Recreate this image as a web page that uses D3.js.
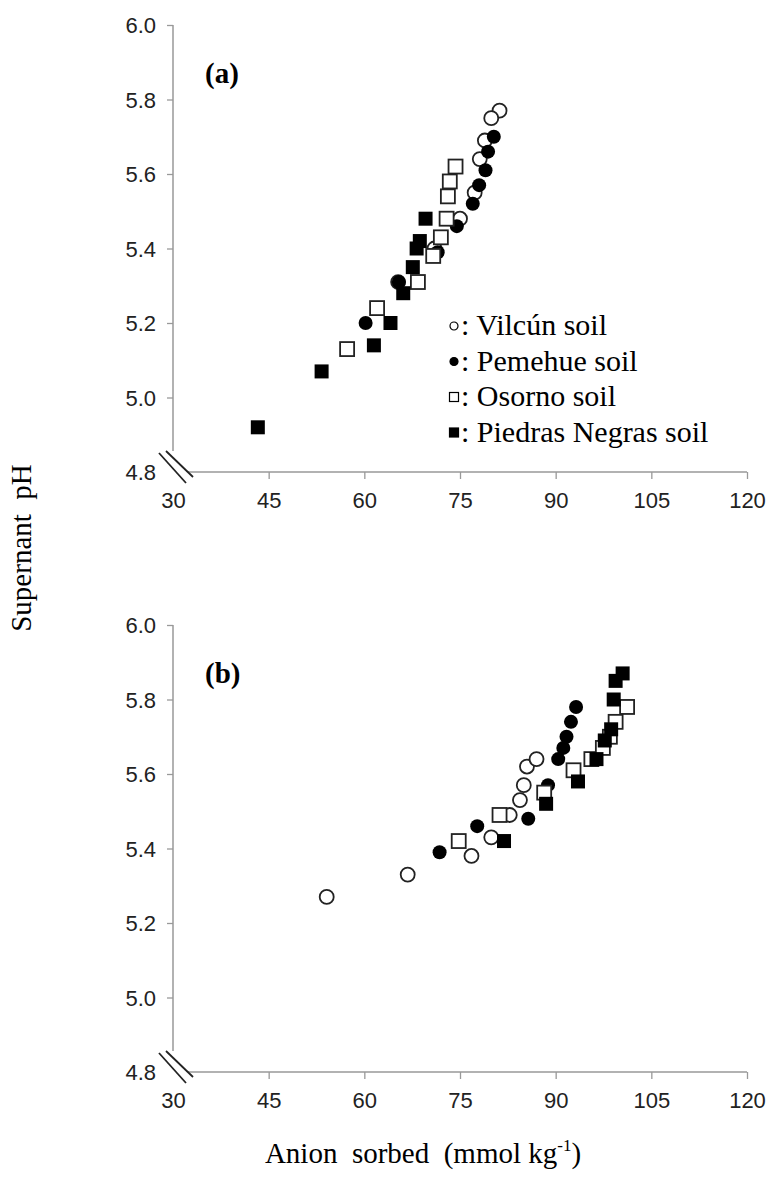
<!DOCTYPE html>
<html>
<head>
<meta charset="utf-8">
<script src="https://cdn.jsdelivr.net/npm/d3@7"></script>
<style>
  body { margin: 0; background: #fff; }
  svg { display: block; }
  .tick text { font-family: "Liberation Sans", Arial, sans-serif; font-size: 22px; fill: #222; }
  .serif { font-family: "Liberation Serif", "Times New Roman", serif; fill: #000; }
</style>
</head>
<body>
<svg width="772" height="1183"></svg>
<script>
// tick labels
var xTicks = [30, 45, 60, 75, 90, 105, 120];
var yTicks = [4.8, 5.0, 5.2, 5.4, 5.6, 5.8, 6.0];

var seriesNames = ["Vilcún soil", "Pemehue soil", "Osorno soil", "Piedras Negras soil"];

// panel (a): [anion sorbed, pH]
var vilcunA = [[81.2,5.77],[79.9,5.75],[78.9,5.69],[78.1,5.64],[77.3,5.55],[75.0,5.48],[71.0,5.40],[65.3,5.31]];
var pemehueA = [[80.3,5.70],[79.4,5.66],[79.0,5.61],[78.0,5.57],[77.0,5.52],[74.5,5.46],[71.5,5.39],[65.4,5.31],[60.2,5.20]];
var osornoA = [[74.3,5.62],[73.4,5.58],[73.1,5.54],[72.9,5.48],[72.0,5.43],[70.8,5.38],[68.4,5.31],[62.0,5.24],[57.3,5.13]];
var piedrasA = [[69.6,5.48],[68.7,5.42],[68.2,5.40],[67.6,5.35],[66.1,5.28],[64.1,5.20],[61.5,5.14],[53.3,5.07],[43.3,4.92]];

// panel (b)
var vilcunB = [[54.1,5.27],[66.8,5.33],[76.8,5.38],[79.9,5.43],[82.8,5.49],[84.4,5.53],[85.0,5.57],[85.5,5.62],[87.0,5.64]];
var pemehueB = [[71.8,5.39],[77.7,5.46],[85.7,5.48],[88.8,5.57],[90.4,5.64],[91.2,5.67],[91.7,5.70],[92.4,5.74],[93.2,5.78]];
var osornoB = [[74.8,5.42],[81.2,5.49],[88.2,5.55],[92.8,5.61],[95.6,5.64],[97.4,5.67],[98.5,5.70],[99.4,5.74],[101.2,5.78]];
var piedrasB = [[81.9,5.42],[88.5,5.52],[93.5,5.58],[96.4,5.64],[97.7,5.69],[98.7,5.72],[99.1,5.80],[99.4,5.85],[100.5,5.87]];

var svg = d3.select("svg");
svg.append("rect").attr("width", 772).attr("height", 1183).attr("fill", "#fff");

var x = d3.scaleLinear().domain([30, 120]).range([173, 747]);

function marker(g, data, kind) {
  var sel;
  if (kind.shape == "circle") {
    sel = g.selectAll(null).data(data).enter().append("circle")
      .attr("cx", function(d){ return kind.x(d[0]); })
      .attr("cy", function(d){ return kind.y(d[1]); })
      .attr("r", 7);
  } else {
    sel = g.selectAll(null).data(data).enter().append("rect")
      .attr("x", function(d){ return kind.x(d[0]) - 7; })
      .attr("y", function(d){ return kind.y(d[1]) - 7; })
      .attr("width", 14).attr("height", 14);
  }
  if (kind.filled) sel.attr("fill", "#000");
  else sel.attr("fill", "#fff").attr("stroke", "#222").attr("stroke-width", 1.8);
}

function panel(top, label, sets) {
  var y = d3.scaleLinear().domain([4.8, 6.0]).range([top + 447, top]);
  var g = svg.append("g");

  // y axis
  var ya = g.append("g").attr("transform", "translate(" + x(30) + ",0)")
    .call(d3.axisLeft(y).tickValues(yTicks).tickFormat(d3.format(".1f")).tickSize(6).tickPadding(11));
  ya.select(".domain").remove();
  ya.selectAll(".tick line").attr("stroke", "#999").attr("stroke-width", 1.3)
    .filter(function(d){ return d == 4.8; }).remove();
  ya.selectAll(".tick text").attr("dy", "0.36em");

  // x axis
  var xa = g.append("g").attr("transform", "translate(0," + y(4.8) + ")")
    .call(d3.axisBottom(x).tickValues(xTicks).tickSize(7).tickPadding(13));
  xa.select(".domain").remove();
  xa.selectAll(".tick line").attr("stroke", "#999").attr("stroke-width", 1.3)
    .filter(function(d){ return d == 30; }).remove();

  // axis lines with break
  g.append("line").attr("x1", x(30)).attr("x2", x(30)).attr("y1", y(6.0)).attr("y2", y(4.8) - 21)
    .attr("stroke", "#999").attr("stroke-width", 1.5);
  g.append("line").attr("x1", x(30) + 15).attr("x2", x(120)).attr("y1", y(4.8)).attr("y2", y(4.8))
    .attr("stroke", "#999").attr("stroke-width", 1.5);
  var b0 = y(4.8);
  [[-14, -19, 13, 11], [-7, -21, 20, 5]].forEach(function(s) {
    g.append("line").attr("x1", x(30) + s[0]).attr("y1", b0 + s[1])
      .attr("x2", x(30) + s[2]).attr("y2", b0 + s[3])
      .attr("stroke", "#222").attr("stroke-width", 1.8);
  });

  g.append("text").attr("class", "serif").attr("x", 205).attr("y", top + 58)
    .attr("font-size", 29).attr("font-weight", "bold").text(label);

  var kinds = [
    {shape: "circle", filled: false},
    {shape: "circle", filled: true},
    {shape: "rect", filled: false},
    {shape: "rect", filled: true}
  ];
  sets.forEach(function(data, i) {
    kinds[i].x = x; kinds[i].y = y;
    marker(g.append("g"), data, kinds[i]);
  });
}

panel(25, "(a)", [vilcunA, pemehueA, osornoA, piedrasA]);
panel(625, "(b)", [vilcunB, pemehueB, osornoB, piedrasB]);

// legend
var leg = svg.append("g").attr("transform", "translate(454,335)");
seriesNames.forEach(function(name, i) {
  var row = leg.append("g").attr("transform", "translate(0," + (i * 35.5) + ")");
  if (i < 2) {
    row.append("circle").attr("cx", 0).attr("cy", -9).attr("r", 4)
      .attr("fill", i == 1 ? "#000" : "#fff").attr("stroke", "#000").attr("stroke-width", 1.2);
  } else {
    row.append("rect").attr("x", -4.5).attr("y", -13.5).attr("width", 9).attr("height", 9)
      .attr("fill", i == 3 ? "#000" : "#fff").attr("stroke", "#000").attr("stroke-width", 1.2);
  }
  row.append("text").attr("class", "serif").attr("x", 7).attr("y", 0)
    .attr("font-size", 30).text(": " + name);
});

// axis titles
svg.append("text").attr("class", "serif")
  .attr("transform", "translate(31,548) rotate(-90)")
  .attr("text-anchor", "middle").attr("font-size", 29)
  .style("white-space", "pre").text("Supernant  pH");

var xt = svg.append("text").attr("class", "serif")
  .attr("x", 423).attr("y", 1163).attr("text-anchor", "middle").attr("font-size", 29)
  .style("white-space", "pre");
xt.append("tspan").text("Anion  sorbed  (mmol kg");
xt.append("tspan").attr("font-size", 17).attr("dy", -12).text("-1");
xt.append("tspan").attr("dy", 12).text(")");
</script>
</body>
</html>
